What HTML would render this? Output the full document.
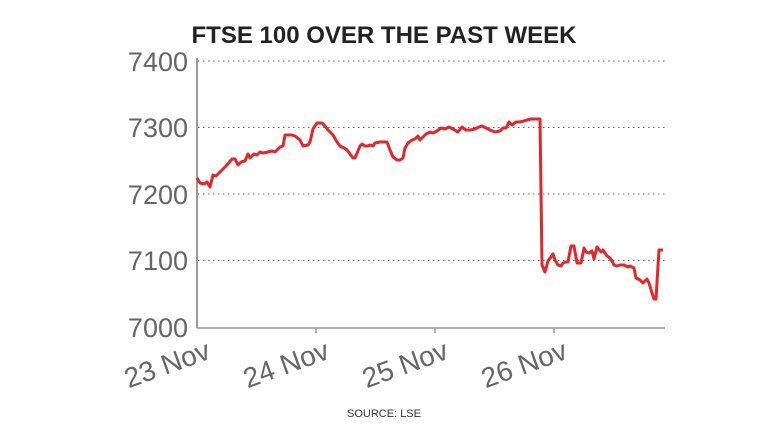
<!DOCTYPE html>
<html><head><style>
body{margin:0;background:#fff;width:768px;height:432px;overflow:hidden;font-family:"Liberation Sans",sans-serif}
</style></head><body>
<svg width="768" height="432" viewBox="0 0 768 432">
<text x="384" y="43" text-anchor="middle" font-size="24" font-weight="bold" fill="#222" font-family="Liberation Sans, sans-serif">FTSE 100 OVER THE PAST WEEK</text>
<g stroke="#666" stroke-width="1" stroke-dasharray="1.5,3.5">
<line x1="198" y1="61" x2="665" y2="61"/><line x1="198" y1="127.5" x2="665" y2="127.5"/>
<line x1="198" y1="194" x2="665" y2="194"/><line x1="198" y1="260.5" x2="665" y2="260.5"/>
</g>
<line x1="197" y1="58" x2="197" y2="328" stroke="#999" stroke-width="2"/>
<line x1="197" y1="328" x2="665" y2="328" stroke="#999" stroke-width="1.5"/>
<g stroke="#999" stroke-width="1.5"><line x1="316" y1="328" x2="316" y2="333"/><line x1="435" y1="328" x2="435" y2="333"/><line x1="554" y1="328" x2="554" y2="333"/></g>
<g font-size="27" fill="#666" text-anchor="end" font-family="Liberation Sans, sans-serif">
<text x="188" y="71">7400</text><text x="188" y="137">7300</text><text x="188" y="204">7200</text><text x="188" y="270">7100</text><text x="188" y="337">7000</text>
</g>
<g font-size="28" fill="#666" text-anchor="end" font-family="Liberation Sans, sans-serif">
<text transform="translate(212,358) rotate(-20)">23 Nov</text>
<text transform="translate(331,358) rotate(-20)">24 Nov</text>
<text transform="translate(450,358) rotate(-20)">25 Nov</text>
<text transform="translate(569,358) rotate(-20)">26 Nov</text>
</g>
<text x="384" y="417" text-anchor="middle" font-size="11" fill="#333" font-family="Liberation Sans, sans-serif">SOURCE: LSE</text>
<polyline fill="none" stroke="#e3262b" stroke-width="3" stroke-linejoin="round" points="197,178 200,183 204,184 207,182 210,187 213,175 216,176 222,170 227,165 232,159 235,159 238,165 241,162 245,161 248,154 250,158 254,154 257,155 260,152 263,153 268,152 272,151 275,152 280,147 283,146 285,135 288,135 292,135 295,136 300,140 302,144 303,146 308,145 310,142 313,129 317,123 322,123 325,126 328,130 333,135 337,142 340,146 344,148 347,150 350,154 353,158 355,158 358,151 360,146 362,144 365,146 368,146 370,145 373,146 375,143 380,142 384,142 387,142 390,150 393,157 397,160 400,160 403,158 405,148 408,143 412,140 415,139 418,136 420,140 423,137 426,134 430,132 433,133 437,131 441,128 445,129 449,127 453,129 458,132 462,127 466,130 470,130 475,129 479,127 482,126 486,128 490,130 495,132 500,131 503,128 506,128 509,122 512,125 516,122 520,122 524,121 527,120 531,119 540,119 542,265 545,272 548,261 553,254 555,260 558,265 561,266 563,263 566,262 568,262 571,246 574,246 577,263 581,263 584,248 586,252 589,253 592,251 594,259 597,247 601,252 603,250 605,253 607,256 610,258 612,261 614,265 617,266 620,265 624,265 628,267 630,266 634,268 636,278 640,280 643,283 647,279 649,283 652,293 654,299 656,299 659,250 663,250"/>
</svg>
</body></html>
